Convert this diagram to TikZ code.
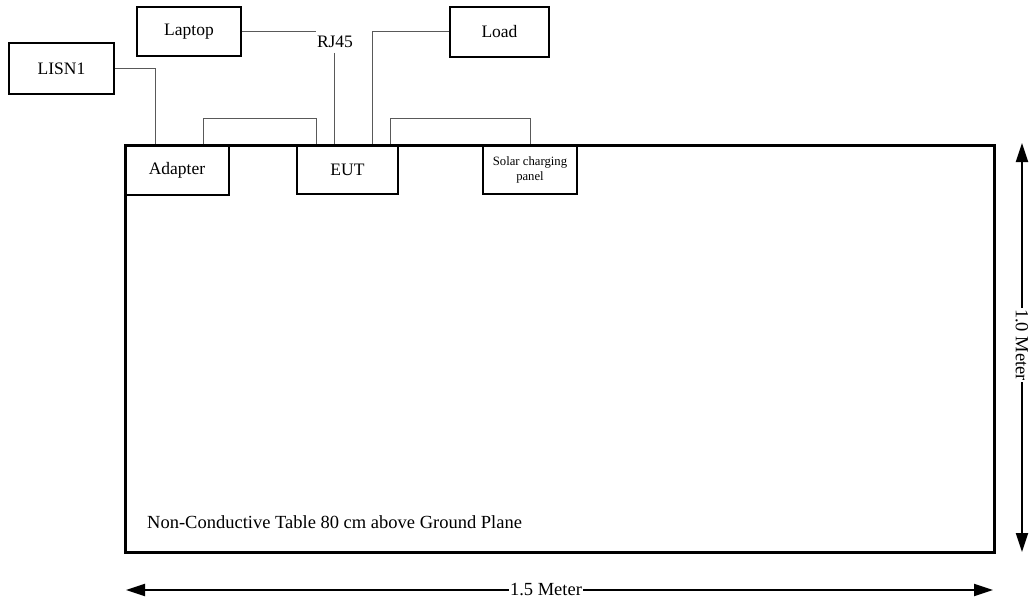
\documentclass[tikz,border=0pt]{standalone}
\usepackage{fontspec}
\setmainfont{Liberation Serif}
\usetikzlibrary{arrows.meta}
\begin{document}
\begin{tikzpicture}[x=1pt,y=-1pt,
  box/.style={draw=black, line width=1.1pt, inner sep=0pt, font=\fontsize{17.5}{20}\selectfont},
  wire/.style={draw=black!65, line width=1pt},
  dim/.style={line width=2pt, {Triangle[length=19pt,width=12pt]}-{Triangle[length=19pt,width=12pt]}},
  lbl/.style={font=\fontsize{17.5}{20}\selectfont, inner sep=1pt}]
\useasboundingbox (0,0) rectangle (1036,602);
% table
\node[draw=black, line width=3pt, minimum width=869pt, minimum height=407pt, inner sep=0pt] (table) at (559.5,348.5) {};
\node[lbl, anchor=west, font=\fontsize{18.5}{21}\selectfont] (tabtext) at (146,522) {Non-Conductive Table 80 cm above Ground Plane};
% boxes
\node[box, minimum width=105pt, minimum height=51pt] (lisn) at (61.5,68.5) {LISN1};
\node[box, minimum width=104pt, minimum height=49pt] (laptop) at (189,31.5) {Laptop};
\node[box, minimum width=99pt, minimum height=50pt] (load) at (499.5,32) {Load};
\node[box, minimum width=104pt, minimum height=50pt] (adapter) at (177,170) {Adapter};
\node[box, minimum width=101pt, minimum height=49pt] (eut) at (347.5,169.5) {EUT};
\node[box, minimum width=94pt, minimum height=49pt, align=center, font=\fontsize{12.7}{15}\selectfont] (solar) at (530,169.5) {Solar charging\\panel};
\node[lbl] (rj) at (335,42) {RJ45};
% wires
\draw[wire] (lisn.east) -| ([xshift=-22pt]adapter.north);
\draw[wire] ([xshift=26pt]adapter.north) -- ++(0,-26) -| ([xshift=-31.5pt]eut.north);
\draw[wire] (laptop.east) -- (laptop.east -| rj.west);
\coordinate (rjb) at (334,53);
\draw[wire] (rjb) -- (rjb |- eut.north);
\draw[wire] (load.west) -| ([xshift=24.5pt]eut.north);
\draw[wire] ([xshift=42.5pt]eut.north) -- ++(0,-26) -| (solar.north);
% dimensions
\coordinate (hl) at (126,590);
\coordinate (hr) at (993,590);
\draw[dim] (hl) -- (hr);
\node[lbl, fill=white, font=\fontsize{18.5}{21}\selectfont] (hlabel) at (546,590) {1.5 Meter};
\coordinate (vt) at (1022,143);
\coordinate (vb) at (1022,552);
\draw[dim] (vt) -- (vb);
\node[lbl, fill=white, rotate=-90, font=\fontsize{18.5}{21}\selectfont] (vlabel) at (1022,345) {1.0 Meter};
\end{tikzpicture}
\end{document}
